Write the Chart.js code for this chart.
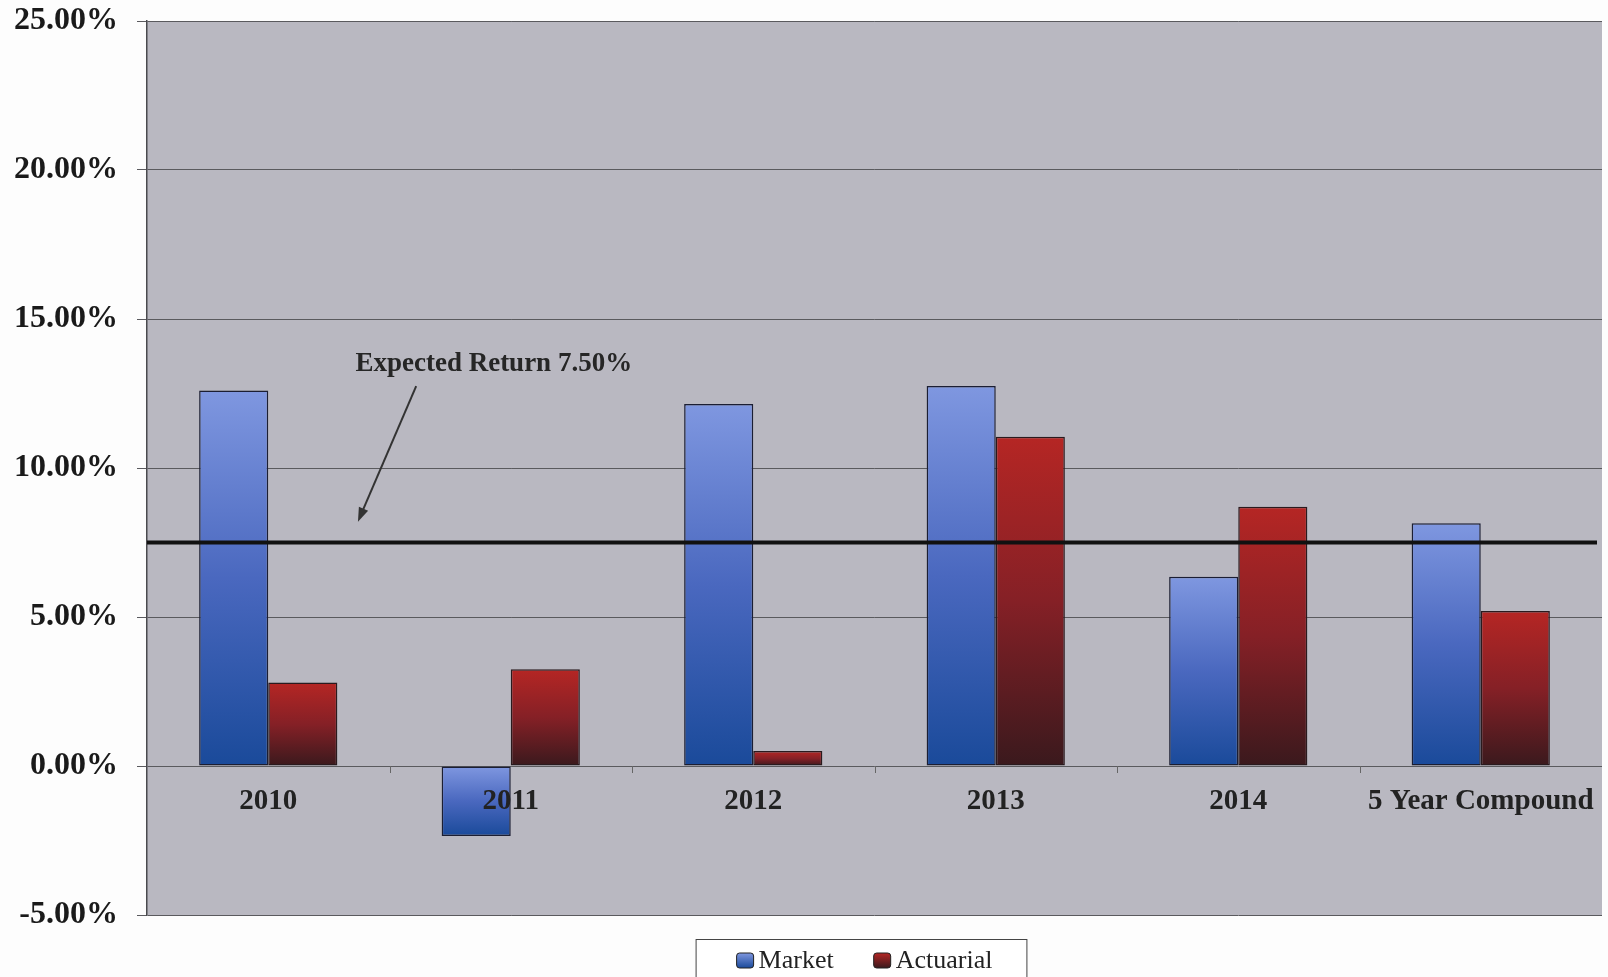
<!DOCTYPE html>
<html>
<head>
<meta charset="utf-8">
<script src="https://cdn.jsdelivr.net/npm/chart.js@4.4.0/dist/chart.umd.min.js"></script>
<style>
  html, body { margin: 0; padding: 0; background: #fdfdfd; }
  #wrap { width: 1608px; height: 977px; }
</style>
</head>
<body>
<div id="wrap"><canvas id="returnsChart" width="1608" height="977"></canvas></div>
<script>
// Annual rates of return, in percent
const categories = ["2010", "2011", "2012", "2013", "2014", "5 Year Compound"];
const marketReturns = [12.6, -2.35, 12.15, 12.75, 6.35, 8.15];
const actuarialReturns = [2.8, 3.25, 0.5, 11.05, 8.7, 5.2];
const yTicks = [-5, 0, 5, 10, 15, 20, 25];
const expectedReturn = 7.5;
const expectedLabel = "Expected Return 7.50%";

const SERIF = '"Liberation Serif", "Times New Roman", serif';
const PLOT_BG = "#b9b8c1";

// top / middle / bottom colours of the bar gradients
const marketStops = ["#7f97e0", "#4a68bf", "#1a4a9a"];
const actuarialStops = ["#b52624", "#852026", "#3a191d"];

// callout anchor, in category index / value units
const callout = { textX: 0.93, textY: 13.5, fromX: 0.61, fromY: 12.75, toX: 0.37, toY: 8.2 };

function barGradient(stops) {
  return function (context) {
    const chart = context.chart;
    const { ctx, chartArea, scales } = chart;
    if (!chartArea || context.type !== "data" || !scales.y) return stops[1];
    const v = context.raw;
    const top = scales.y.getPixelForValue(Math.max(v, 0));
    const bottom = scales.y.getPixelForValue(Math.min(v, 0));
    if (bottom - top < 2) return stops[1];
    const g = ctx.createLinearGradient(0, top, 0, bottom);
    g.addColorStop(0, stops[0]);
    g.addColorStop(0.5, stops[1]);
    g.addColorStop(1, stops[2]);
    return g;
  };
}

function drawSwatch(ctx, x, y, w, h, stops) {
  const g = ctx.createLinearGradient(0, y, 0, y + h);
  g.addColorStop(0, stops[0]);
  g.addColorStop(1, stops[2]);
  ctx.fillStyle = g;
  ctx.beginPath();
  ctx.roundRect(x, y, w, h, 3);
  ctx.fill();
  ctx.strokeStyle = "#222";
  ctx.lineWidth = 1;
  ctx.stroke();
}

const chartDecor = {
  id: "chartDecor",
  beforeDraw(chart) {
    const { ctx, chartArea: a } = chart;
    ctx.save();
    ctx.fillStyle = PLOT_BG;
    ctx.fillRect(a.left, a.top, a.right - a.left, a.bottom - a.top);
    ctx.restore();
  },
  afterDatasetsDraw(chart) {
    const { ctx, chartArea: a, scales } = chart;
    const x = scales.x, y = scales.y;
    const zeroY = y.getPixelForValue(0);
    ctx.save();

    // small ticks between categories on the zero line
    ctx.strokeStyle = "#666";
    ctx.lineWidth = 1;
    for (let i = 1; i < categories.length; i++) {
      const px = Math.round(x.getPixelForValue(i - 0.5)) + 0.5;
      ctx.beginPath();
      ctx.moveTo(px, zeroY);
      ctx.lineTo(px, zeroY + 7);
      ctx.stroke();
    }

    // expected return line
    const ey = y.getPixelForValue(expectedReturn);
    ctx.strokeStyle = "#111";
    ctx.lineWidth = 4;
    ctx.beginPath();
    ctx.moveTo(a.left, ey);
    ctx.lineTo(a.right - 5, ey);
    ctx.stroke();

    // callout text and arrow
    ctx.fillStyle = "#262626";
    ctx.font = "bold 27px " + SERIF;
    ctx.textAlign = "center";
    ctx.textBaseline = "middle";
    ctx.fillText(expectedLabel, x.getPixelForValue(callout.textX), y.getPixelForValue(callout.textY));

    const x0 = x.getPixelForValue(callout.fromX), y0 = y.getPixelForValue(callout.fromY);
    const x1 = x.getPixelForValue(callout.toX), y1 = y.getPixelForValue(callout.toY);
    const ang = Math.atan2(y1 - y0, x1 - x0);
    ctx.strokeStyle = "#333";
    ctx.lineWidth = 2;
    ctx.beginPath();
    ctx.moveTo(x0, y0);
    ctx.lineTo(x1 - 10 * Math.cos(ang), y1 - 10 * Math.sin(ang));
    ctx.stroke();
    ctx.fillStyle = "#333";
    ctx.beginPath();
    ctx.moveTo(x1, y1);
    ctx.lineTo(x1 - 14 * Math.cos(ang) + 5 * Math.sin(ang), y1 - 14 * Math.sin(ang) - 5 * Math.cos(ang));
    ctx.lineTo(x1 - 14 * Math.cos(ang) - 5 * Math.sin(ang), y1 - 14 * Math.sin(ang) + 5 * Math.cos(ang));
    ctx.closePath();
    ctx.fill();

    // category labels just under the zero line
    ctx.fillStyle = "#222";
    ctx.font = "bold 29px " + SERIF;
    ctx.textBaseline = "alphabetic";
    categories.forEach((c, i) => {
      ctx.fillText(c, x.getPixelForValue(i), zeroY + 43);
    });

    // legend with frame
    ctx.font = "26px " + SERIF;
    const items = chart.data.datasets.map((d, i) => ({
      label: d.label,
      stops: i === 0 ? marketStops : actuarialStops,
      w: ctx.measureText(d.label).width
    }));
    const sw = 17, sh = 15, gap = 5, between = 40;
    const total = items.reduce((s, it) => s + sw + gap + it.w, 0) + between * (items.length - 1);
    let lx = (a.left + a.right) / 2 - 10 - total / 2;
    const ly = 960;
    ctx.strokeStyle = "#444";
    ctx.lineWidth = 1;
    ctx.fillStyle = "#ffffff";
    ctx.fillRect(lx - 41, 939, total + 75, 50);
    ctx.strokeRect(lx - 41 + 0.5, 939.5, total + 75, 50);
    ctx.textAlign = "left";
    ctx.textBaseline = "middle";
    items.forEach(it => {
      drawSwatch(ctx, lx, ly - 7, sw, sh, it.stops);
      ctx.fillStyle = "#222";
      ctx.fillText(it.label, lx + sw + gap, ly + 1);
      lx += sw + gap + it.w + between;
    });

    ctx.restore();
  }
};

const ctx = document.getElementById("returnsChart").getContext("2d");

new Chart(ctx, {
  type: "bar",
  data: {
    labels: categories,
    datasets: [
      {
        label: "Market",
        data: marketReturns,
        backgroundColor: barGradient(marketStops),
        borderColor: "#1b1e33",
        borderWidth: 1.5,
        borderSkipped: false
      },
      {
        label: "Actuarial",
        data: actuarialReturns,
        backgroundColor: barGradient(actuarialStops),
        borderColor: "#2a1a1e",
        borderWidth: 1.5,
        borderSkipped: false
      }
    ]
  },
  options: {
    responsive: false,
    animation: false,
    categoryPercentage: 0.57,
    barPercentage: 1.0,
    layout: { padding: { left: 0, right: 6, top: 21, bottom: 62 } },
    plugins: {
      legend: { display: false },
      tooltip: { enabled: false }
    },
    scales: {
      x: { display: false },
      y: {
        min: -5,
        max: 25,
        afterBuildTicks: s => { s.ticks = yTicks.map(v => ({ value: v })); },
        afterFit: s => { s.width = 147; s.paddingTop = 0; s.paddingBottom = 0; },
        grid: { color: "#5a5a5e", lineWidth: 1, tickLength: 10 },
        border: { color: "#4a4a4e", width: 1.5 },
        ticks: {
          padding: 19,
          color: "#1a1a1a",
          font: { family: SERIF, size: 32, weight: "bold" },
          callback: v => v.toFixed(2) + "%"
        }
      }
    }
  },
  plugins: [chartDecor]
});
</script>
</body>
</html>
